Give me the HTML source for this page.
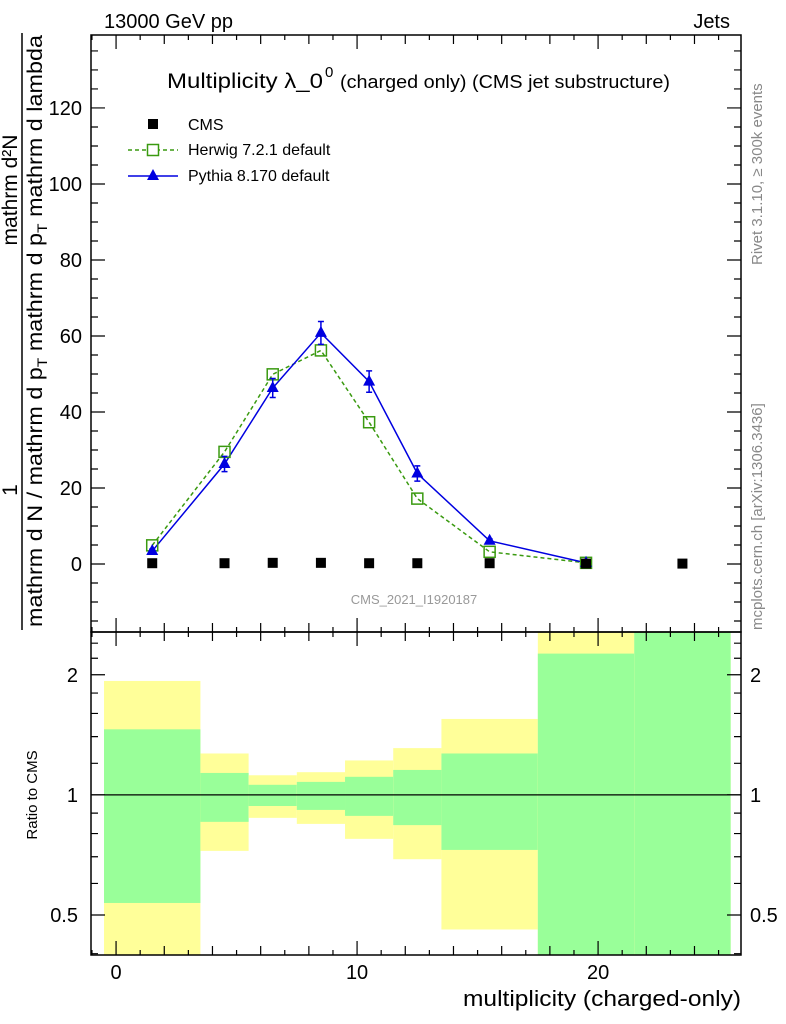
<!DOCTYPE html>
<html><head><meta charset="utf-8"><style>
html,body{margin:0;padding:0;background:#fff;}
svg{display:block;font-family:"Liberation Sans",sans-serif;}
</style></head><body>
<svg id="c" width="786" height="1024" viewBox="0 0 786 1024" xmlns="http://www.w3.org/2000/svg">
<g id="bands"></g>
<g id="marks"></g>
<g id="axes"></g>
<text x="104" y="28" font-size="20">13000 GeV pp</text>
<text x="730" y="28" font-size="20" text-anchor="end">Jets</text>
<g>
<text x="167" y="88" font-size="21" textLength="156" lengthAdjust="spacingAndGlyphs">Multiplicity λ_0</text>
<text x="325" y="77" font-size="15">0</text>
<text x="340" y="88" font-size="18" textLength="330" lengthAdjust="spacingAndGlyphs">(charged only) (CMS jet substructure)</text>
</g>
<g>
<rect x="148" y="119" width="10" height="10" fill="#000"/>
<text x="188" y="130" font-size="16">CMS</text>
<line x1="128" y1="150" x2="178" y2="150" stroke="#3a9a10" stroke-width="1.5" stroke-dasharray="4,3"/>
<rect x="147.5" y="144.5" width="11" height="11" fill="#fff" stroke="#3a9a10" stroke-width="1.5"/>
<text x="188" y="155" font-size="16">Herwig 7.2.1 default</text>
<line x1="128" y1="176" x2="178" y2="176" stroke="#0000e0" stroke-width="1.5"/>
<polygon points="153,169 159,180 147,180" fill="#0000e0"/>
<text x="188" y="181" font-size="16">Pythia 8.170 default</text>
</g>
<text x="414" y="604" font-size="13" fill="#999" text-anchor="middle">CMS_2021_I1920187</text>
<text transform="translate(762,265) rotate(-90)" font-size="15" fill="#888">Rivet 3.1.10, ≥ 300k events</text>
<text transform="translate(762,630) rotate(-90)" font-size="15" fill="#888">mcplots.cern.ch [arXiv:1306.3436]</text>
<g transform="translate(0,630) rotate(-90)">
<line x1="0" y1="22" x2="597" y2="22" stroke="#000" stroke-width="1.5"/>
<text x="3" y="42" font-size="21" textLength="592" lengthAdjust="spacingAndGlyphs">mathrm d N / mathrm d p<tspan font-size="14" dy="5">T</tspan><tspan dy="-5"> mathrm d p</tspan><tspan font-size="14" dy="5">T</tspan><tspan dy="-5"> mathrm d lambda</tspan></text>
<text x="140" y="17" font-size="21" text-anchor="middle">1</text>
<text x="440" y="17" font-size="21" text-anchor="middle">mathrm d²N</text>
</g>
<text transform="translate(37,795) rotate(-90)" font-size="15" text-anchor="middle">Ratio to CMS</text>
<text x="741" y="1006" font-size="22" text-anchor="end" textLength="278" lengthAdjust="spacingAndGlyphs">multiplicity (charged-only)</text>
</svg>
<script>
const xCenters=[1.5,4.5,6.5,8.5,10.5,12.5,15.5,19.5,23.5];
const cmsVals=[0.2,0.2,0.3,0.3,0.2,0.2,0.2,0.1,0.1];
const herwigX=[1.5,4.5,6.5,8.5,10.5,12.5,15.5,19.5];
const herwigVals=[4.9,29.5,49.9,56.2,37.3,17.2,3.2,0.3];
const pythiaVals=[3.4,26.3,46.3,60.8,48,23.8,6.1,0.3];
const pythiaErr=[0.5,2,2.5,3,2.8,2,0.5,0.2];
const binEdges=[-0.5,3.5,5.5,7.5,9.5,11.5,13.5,17.5,21.5,25.5];
const greenLo=[0.536,0.856,0.938,0.917,0.886,0.84,0.728,0.3,0.3];
const greenHi=[1.46,1.135,1.06,1.078,1.11,1.155,1.27,2.26,3];
const yellowLo=[0.3,0.724,0.876,0.846,0.776,0.69,0.46,0.3,0.3];
const yellowHi=[1.93,1.27,1.12,1.14,1.22,1.31,1.55,3,3];
const yTicks=[0,20,40,60,80,100,120];
const xTicks=[0,10,20];
const rTicks=[0.5,1,2];
const rTickLabels=["0.5","1","2"];

const NS="http://www.w3.org/2000/svg";
const L=91,R=741,T=35,B=632,RT=632,RB=955;
const xMin=-1.04,xMax=25.93,yMin=-17.9,yMax=139.2;
const rMin=Math.log2(0.397),rMax=Math.log2(2.56);
const sx=v=>L+(v-xMin)/(xMax-xMin)*(R-L);
const sy=v=>B-(v-yMin)/(yMax-yMin)*(B-T);
const sr=v=>{let l=Math.log2(v);l=Math.max(rMin,Math.min(rMax,l));return RB-(l-rMin)/(rMax-rMin)*(RB-RT);};
function mk(p,tag,a){const e=document.createElementNS(NS,tag);for(const k in a)e.setAttribute(k,a[k]);p.appendChild(e);return e;}
const bands=document.getElementById('bands'),marks=document.getElementById('marks'),axes=document.getElementById('axes');

for(let i=0;i<binEdges.length-1;i++){
  const x0=sx(binEdges[i]),x1=sx(binEdges[i+1]);
  const y=mk(bands,'rect',{x:x0,y:sr(yellowHi[i]),width:x1-x0,height:sr(yellowLo[i])-sr(yellowHi[i]),fill:'#ffff99'});
  
  
  const g=mk(bands,'rect',{x:x0,y:sr(greenHi[i]),width:x1-x0,height:sr(greenLo[i])-sr(greenHi[i]),fill:'#99ff99'});
  
  
}
const one=mk(bands,'line',{x1:L,x2:R,y1:sr(1),y2:sr(1),stroke:'#000','stroke-width':1.2});



const hp=mk(marks,'polyline',{points:herwigX.map((x,i)=>sx(x)+','+sy(herwigVals[i])).join(' '),fill:'none',stroke:'#3a9a10','stroke-width':1.5,'stroke-dasharray':'4,3'});


const pp=mk(marks,'polyline',{points:herwigX.map((x,i)=>sx(x)+','+sy(pythiaVals[i])).join(' '),fill:'none',stroke:'#0000e0','stroke-width':1.5});


herwigX.forEach((x,i)=>{
  const cx=sx(x),cy=sy(herwigVals[i]);
  const r=mk(marks,'rect',{x:cx-5.5,y:cy-5.5,width:11,height:11,fill:'none',stroke:'#3a9a10','stroke-width':1.5});
  
  
});
herwigX.forEach((x,i)=>{
  const cx=sx(x),cy=sy(pythiaVals[i]),e1=sy(pythiaVals[i]+pythiaErr[i]),e2=sy(pythiaVals[i]-pythiaErr[i]);
  const eb=mk(marks,'path',{d:`M${cx},${e1}V${e2}M${cx-3},${e1}H${cx+3}M${cx-3},${e2}H${cx+3}`,stroke:'#0000e0','stroke-width':1.5,fill:'none'});
  
  
  const t=mk(marks,'polygon',{points:`${cx},${cy-7} ${cx+6},${cy+4} ${cx-6},${cy+4}`,fill:'#0000e0'});
  
  
});
xCenters.forEach((x,i)=>{
  const cx=sx(x),cy=sy(cmsVals[i]);
  const r=mk(marks,'rect',{x:cx-5,y:cy-5,width:10,height:10,fill:'#000'});
  
  
});

const f1=mk(axes,'rect',{x:L,y:T,width:R-L,height:B-T,fill:'none',stroke:'#000','stroke-width':1.5});


const f2=mk(axes,'rect',{x:L,y:RT,width:R-L,height:RB-RT,fill:'none',stroke:'#000','stroke-width':1.5});


let d='';
for(let v=-1;v<=25;v++){
  const x=sx(v),len=v%10==0?14:(v%2==0?9:5);
  d+=`M${x},${B}v${-len}M${x},${T}v${len}M${x},${RB}v${-len}M${x},${RT}v${len}`;
}
for(let v=-15;v<=135;v+=5){
  const y=sy(v),len=v%20==0?14:7;
  d+=`M${L},${y}h${len}M${R},${y}h${-len}`;
}
[0.4,0.5,0.6,0.7,0.8,0.9,1,1.2,1.4,1.6,1.8,2,2.2,2.4].forEach(v=>{
  const y=sr(v),len=rTicks.includes(v)?14:7;
  d+=`M${L},${y}h${len}M${R},${y}h${-len}`;
});
const tk=mk(axes,'path',{d:d,stroke:'#000','stroke-width':1.2,fill:'none'});


yTicks.forEach(v=>{
  const t=mk(axes,'text',{x:82,y:sy(v)+7,'font-size':20,'text-anchor':'end'});t.textContent=v;
  
  
});
xTicks.forEach(v=>{
  const t=mk(axes,'text',{x:sx(v),y:979,'font-size':20,'text-anchor':'middle'});t.textContent=v;
  
  
});
rTicks.forEach((v,i)=>{
  const t=mk(axes,'text',{x:78,y:sr(v)+7,'font-size':20,'text-anchor':'end'});t.textContent=rTickLabels[i];
  
  
  const t2=mk(axes,'text',{x:750,y:sr(v)+7,'font-size':20});t2.textContent=rTickLabels[i];
  
  
});
</script>
</body></html>
